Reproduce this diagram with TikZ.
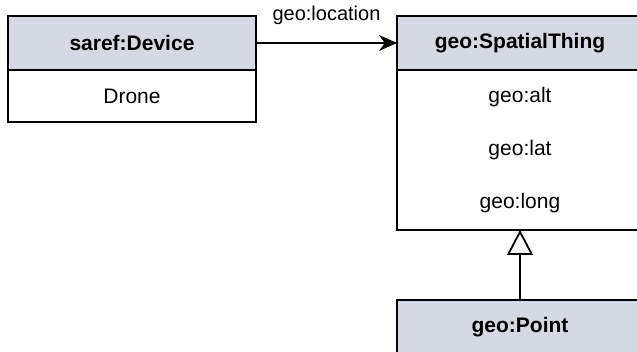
\documentclass[tikz,border=0pt]{standalone}
\usepackage{fontspec}
\setmainfont{Liberation Sans}
\usetikzlibrary{arrows.meta,positioning}
\definecolor{hdrfill}{RGB}{213,217,228}
\tikzstyle{chead}=[rectangle,draw=black,fill=hdrfill,line width=1.8pt,minimum width=246pt,minimum height=54pt,inner sep=0pt,outer sep=0pt,font=\fontsize{21}{25}\selectfont\bfseries]
\tikzstyle{cbody}=[rectangle,draw=black,fill=white,line width=1.8pt,minimum width=246pt,inner sep=0pt,outer sep=0pt]
\tikzstyle{attr}=[font=\fontsize{21}{25}\selectfont]
\tikzstyle{assoc}=[-{Stealth[length=18pt,width=16pt]}, line width=1.8pt]
\tikzstyle{inherit}=[-{Triangle[open,length=25pt,width=26pt,fill=white]}, line width=1.8pt]

\begin{document}
\begin{tikzpicture}[x=1pt,y=-1pt]
\useasboundingbox (0,0) rectangle (637,352);
\node[chead,minimum width=248pt,anchor=north west] (dev) at (8,16) {saref:Device};
\node[cbody,minimum width=248pt,minimum height=52pt,below=0pt of dev,attr] (devbody) {Drone};
\node[chead,anchor=north west] (thing) at (397,16) {geo:SpatialThing};
\node[cbody,minimum height=160pt,below=0pt of thing] (thingbody) {};
\node[attr] (alt) at (520,97) {geo:alt};
\node[attr] (lat) at (520,150) {geo:lat};
\node[attr] (long) at (520,203) {geo:long};
\node[chead,anchor=north west] (point) at (397,300) {geo:Point};
\draw[assoc] (dev) -- node[midway,above=14pt,font=\fontsize{20}{24}\selectfont] (loclabel) {geo:location} (thing);
\draw[inherit] (point) -- (thingbody);
\end{tikzpicture}
\end{document}
